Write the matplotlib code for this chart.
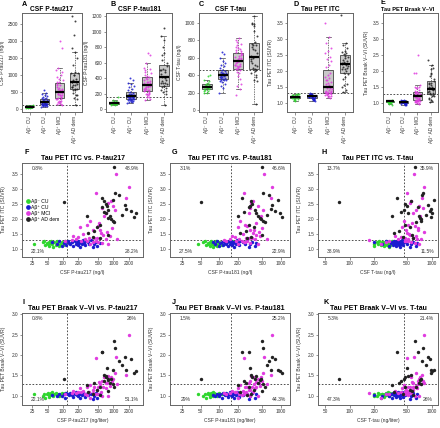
import numpy as np
import matplotlib
matplotlib.use("Agg")
import matplotlib.pyplot as plt
from matplotlib.ticker import FixedLocator, NullLocator, FixedFormatter
from matplotlib.lines import Line2D

plt.rcParams['font.family'] = ['Liberation Sans', 'DejaVu Sans']

W, H = 440, 428

# groups, in plotting order
group_names = ["Aβ⁻ CU", "Aβ⁺ CU", "Aβ⁺ MCI", "Aβ⁺ AD dem"]
group_colors = ["#2fd62f", "#1c1cd0", "#e03ce0", "#222222"]

# Aβ- CU
cu_neg_ptau217 = [27, 40, 42, 45, 48, 50, 52, 54, 55, 57, 60, 62, 65, 68, 72, 75, 78, 82, 88, 95, 100, 110]
cu_neg_ptau181 = [46, 55, 60, 62, 65, 66, 70, 72, 74, 75, 76, 78, 80, 82, 84, 86, 88, 92, 95, 100, 110, 160]
cu_neg_ttau = [200, 215, 230, 240, 250, 220, 255, 262, 270, 280, 265, 290, 300, 245, 310, 275, 330, 200, 350, 390, 285, 400]
cu_neg_itc = [1.18, 1.22, 1.25, 1.12, 1.20, 1.15, 1.24, 1.10, 1.19, 1.27, 1.17, 1.21, 1.05, 1.23, 1.14, 1.20, 1.26, 1.09, 1.18, 1.22, 1.13, 1.28]
cu_neg_braak = [1.05, 1.00, 1.03, 0.93, 1.05, 1.07, 1.02, 0.96, 1.04, 1.06, 1.01, 1.08, 0.98, 1.04, 1.06, 1.02, 1.05, 0.99, 1.03, 1.07, 1.04, 1.06]

# Aβ+ CU
cu_pos_ptau217 = [62, 75, 85, 95, 105, 110, 115, 125, 135, 140, 150, 160, 170, 180, 190, 195, 200,
                  205, 210, 220, 230, 240, 250, 260, 270, 290, 310, 330, 360, 390, 420, 450, 470, 550]
cu_pos_ptau181 = [80, 85, 92, 98, 105, 110, 115, 118, 125, 130, 135, 140, 145, 150, 155, 158, 160,
                  165, 170, 175, 180, 185, 195, 200, 210, 220, 240, 260, 280, 300, 320, 340, 380, 400]
cu_pos_ttau = [200, 250, 280, 300, 320, 330, 340, 345, 350, 360, 365, 370, 380, 385, 390, 395, 400,
               405, 410, 415, 420, 425, 430, 440, 450, 460, 480, 500, 520, 540, 560, 600, 640, 660]
cu_pos_itc = [1.22, 1.15, 1.26, 1.10, 1.19, 1.24, 1.13, 1.28, 1.20, 1.16, 1.23, 1.11, 1.25, 1.18, 1.21, 1.27, 1.14,
              1.22, 1.19, 1.08, 1.24, 1.17, 1.29, 1.20, 1.12, 1.26, 1.22, 1.15, 1.30, 1.05, 1.18, 1.24, 1.10, 1.21]
cu_pos_braak = [1.02, 0.98, 1.05, 1.00, 1.04, 0.95, 1.06, 1.03, 1.01, 1.07, 1.02, 0.97, 1.04, 1.08, 1.02, 1.05, 0.99,
                1.03, 1.06, 0.94, 1.04, 1.01, 1.09, 1.03, 0.96, 1.05, 1.02, 1.07, 1.04, 0.92, 1.00, 1.06, 0.95, 1.03]

# Aβ+ MCI
mci_ptau217 = [1150, 2000, 450, 1800, 900, 800, 1000, 600, 1100, 700, 650, 350, 520, 300, 500, 220, 550, 400, 750, 250, 620, 850,
               200, 330, 470, 180, 700, 280, 1200, 420, 560, 950, 160, 230, 300, 400, 450, 600, 800, 150, 350, 500, 110]
mci_ptau181 = [530, 720, 250, 700, 350, 330, 420, 310, 520, 300, 480, 220, 390, 260, 280, 200, 360, 320, 440, 240, 400, 460,
               180, 270, 300, 150, 380, 210, 600, 340, 350, 500, 160, 190, 230, 250, 280, 320, 430, 120, 200, 260, 130]
mci_ttau = [610, 820, 500, 760, 560, 540, 700, 780, 650, 600, 720, 460, 580, 520, 620, 440, 680, 490, 800, 530, 550, 640,
            420, 470, 600, 390, 660, 510, 740, 590, 500, 690, 360, 480, 520, 560, 470, 630, 710, 170, 240, 280, 300]
mci_itc = [3.50, 3.07, 2.88, 2.72, 2.62, 2.55, 2.45, 2.38, 2.30, 2.20, 2.12, 1.95, 1.88, 1.80, 1.78, 1.72, 1.65, 1.62, 1.58, 1.50, 1.46, 1.42,
           1.40, 1.37, 1.35, 1.34, 1.33, 1.32, 1.32, 1.38, 1.55, 1.70, 1.45, 1.28, 1.25, 1.22, 1.27, 1.20, 1.18, 1.30, 1.15, 1.24, 1.26]
mci_braak = [1.95, 2.50, 1.93, 1.50, 1.45, 1.48, 1.40, 1.35, 1.55, 1.30, 1.45, 1.25, 1.33, 1.22, 1.20, 1.18, 1.28, 1.15, 1.32, 1.12, 1.20, 1.24,
             1.10, 1.08, 1.15, 1.06, 1.18, 1.05, 1.28, 1.22, 1.10, 1.36, 1.12, 1.08, 1.02, 1.06, 1.04, 1.00, 0.98, 1.07, 0.95, 1.03, 1.05]

# Aβ+ AD dementia
ad_ptau217 = [1050, 1100, 1300, 600, 1000, 650, 105, 700, 750, 600, 1800, 800, 2200, 650, 700, 850, 300, 2600, 800, 900, 1000,
              1050, 550, 480, 420, 320, 800, 400, 550, 1500, 1700, 2750]
ad_ptau181 = [500, 510, 640, 230, 900, 330, 50, 340, 320, 300, 700, 380, 800, 250, 400, 420, 200, 1050, 450, 480, 520,
              560, 300, 360, 270, 220, 500, 330, 280, 600, 720, 950]
ad_ttau = [620, 780, 760, 380, 1080, 560, 75, 480, 500, 690, 980, 460, 960, 420, 520, 700, 330, 990, 720, 740, 750,
           650, 470, 540, 400, 350, 580, 450, 600, 850, 900, 1000]
ad_itc = [3.75, 2.88, 2.80, 2.72, 2.63, 2.60, 2.57, 2.52, 2.45, 2.40, 2.35, 2.30, 2.28, 2.25, 2.20, 2.12, 2.10, 2.07, 2.05, 2.00, 1.95,
          1.90, 1.80, 1.75, 1.60, 1.55, 1.48, 1.40, 1.35, 2.15, 2.48, 2.22]
ad_braak = [2.35, 2.18, 1.85, 2.08, 1.62, 1.50, 1.42, 1.45, 1.68, 2.07, 1.63, 1.40, 1.90, 1.35, 1.48, 1.30, 1.25, 1.55, 1.38, 1.42, 1.28,
            1.22, 1.20, 1.15, 1.32, 1.08, 1.12, 1.05, 1.02, 1.75, 1.95, 1.60]

data = {
    "ptau217": [cu_neg_ptau217, cu_pos_ptau217, mci_ptau217, ad_ptau217],
    "ptau181": [cu_neg_ptau181, cu_pos_ptau181, mci_ptau181, ad_ptau181],
    "ttau": [cu_neg_ttau, cu_pos_ttau, mci_ttau, ad_ttau],
    "itc": [cu_neg_itc, cu_pos_itc, mci_itc, ad_itc],
    "braak": [cu_neg_braak, cu_pos_braak, mci_braak, ad_braak],
}

# cut-offs
cut_ptau217, cut_ptau181, cut_ttau = 120, 155, 465
cut_itc, cut_braak = 1.31, 1.28

# quadrant percentages (TL, TR, BL, BR)
pct_itc_217 = ["0.8%", "48.9%", "22.1%", "28.2%"]
pct_itc_181 = ["3.1%", "46.6%", "27.5%", "22.9%"]
pct_itc_tt = ["13.7%", "35.9%", "38.9%", "11.5%"]
pct_br_217 = ["0.8%", "26%", "22.1%", "51.1%"]
pct_br_181 = ["1.5%", "25.2%", "29%", "44.3%"]
pct_br_tt = ["5.3%", "21.4%", "47.3%", "26%"]

FRAME = "#666666"
TXT = "#333333"
TICK_FS = 3.4
LAB_FS = 3.6
TITLE_FS = 4.8

fig = plt.figure(figsize=(W / 100, H / 100), dpi=100)


def px_axes(left, top, right, bottom):
    return fig.add_axes([left / W, 1 - bottom / H, (right - left) / W, (bottom - top) / H])


def style(ax):
    for s in ax.spines.values():
        s.set_color(FRAME)
        s.set_linewidth(0.7)
    ax.tick_params(labelsize=TICK_FS, length=1.8, width=0.5, pad=1, colors=FRAME, labelcolor=TXT)


def jitter(n):
    return ((np.arange(n) * 0.618034) % 1 - 0.5) * 0.42


def box_panel(ax, key, ylim, yticks, cut, ylabel, title, title_fs=TITLE_FS, title_x=0.5):
    vals = data[key]
    bp = ax.boxplot(vals, positions=[1, 2, 3, 4], widths=0.62, patch_artist=True, showfliers=False,
                    boxprops=dict(facecolor="#c9c9c9", edgecolor="#444444", linewidth=0.6),
                    medianprops=dict(color="black", linewidth=1.6),
                    whiskerprops=dict(color="#444444", linewidth=0.5, linestyle=(0, (2, 1.5))),
                    capprops=dict(color="#444444", linewidth=0.5))
    for b in bp["boxes"]:
        b.set_zorder(1)
    for m in bp["medians"]:
        m.set_zorder(4)
    for i, v in enumerate(vals):
        ax.scatter(i + 1 + jitter(len(v)), v, s=2.0, color=group_colors[i], lw=0, zorder=3, alpha=0.85)
    ax.axhline(cut, color="#333333", lw=0.6, ls=(0, (2, 2)), zorder=2)
    ax.set_xlim(0.5, 4.5)
    ax.set_ylim(*ylim)
    ax.set_yticks(yticks)
    ax.set_yticklabels([f"{t:g}" if key not in ("itc", "braak") else f"{t:.1f}" for t in yticks])
    ax.set_xticks([1, 2, 3, 4])
    ax.set_xticklabels(group_names, rotation=90)
    style(ax)
    ax.set_ylabel(ylabel, fontsize=LAB_FS, color=TXT, labelpad=2)
    ax.set_title(title, fontsize=title_fs, fontweight="bold", pad=1.5, x=title_x)


def scatter_panel(ax, xkey, ykey, xlim, xticks, ylim, yticks, xcut, ycut, pcts, title, xlabel, ylabel):
    for i in range(4):
        ax.scatter(data[xkey][i], data[ykey][i], s=6, color=group_colors[i], lw=0, zorder=3)
    ax.set_xscale("log")
    ax.set_xlim(*xlim)
    ax.set_ylim(*ylim)
    ax.xaxis.set_major_locator(FixedLocator(xticks))
    ax.xaxis.set_major_formatter(FixedFormatter([str(t) for t in xticks]))
    ax.xaxis.set_minor_locator(NullLocator())
    ax.set_yticks(yticks)
    ax.set_yticklabels([f"{t:.1f}" for t in yticks])
    ax.axvline(xcut, color="#333333", lw=0.6, ls=(0, (2, 2)))
    ax.axhline(ycut, color="#333333", lw=0.6, ls=(0, (2, 2)))
    for (x, y), p in zip([(0.13, 0.94), (0.91, 0.94), (0.13, 0.055), (0.91, 0.055)], pcts):
        ax.text(x, y, p, transform=ax.transAxes, ha="center", va="center", fontsize=3.6, color=TXT)
    style(ax)
    ax.set_title(title, fontsize=5.0, fontweight="bold", pad=2.5)
    ax.set_xlabel(xlabel, fontsize=LAB_FS, color=TXT, labelpad=3)
    ax.set_ylabel(ylabel, fontsize=LAB_FS, color=TXT, labelpad=4)


# top row: box plots
axA = px_axes(22, 13, 82, 112)
axB = px_axes(106, 13, 172, 112)
axC = px_axes(199, 13, 262, 112)
axD = px_axes(287, 13, 353, 112)
axE = px_axes(383, 13, 438, 112)

box_panel(axA, "ptau217", (-90, 2840), [0, 500, 1000, 1500, 2000, 2500], cut_ptau217, "CSF P-tau217 (ng/l)", "CSF P-tau217")
box_panel(axB, "ptau181", (-40, 1245), [0, 200, 400, 600, 800, 1000, 1200], cut_ptau181, "CSF P-tau181 (ng/l)", "CSF P-tau181")
box_panel(axC, "ttau", (-20, 1110), [0, 200, 400, 600, 800, 1000], cut_ttau, "CSF T-tau (ng/l)", "CSF T-tau")
box_panel(axD, "itc", (0.71, 3.82), [1.0, 1.5, 2.0, 2.5, 3.0, 3.5], cut_itc, "Tau PET ITC (SUVR)", "Tau PET ITC")
box_panel(axE, "braak", (0.71, 3.82), [1.0, 1.5, 2.0, 2.5, 3.0, 3.5], cut_braak, "Tau PET Braak V–VI (SUVR)",
          "Tau PET Braak V–VI", title_fs=4.1, title_x=0.45)

# middle row: ITC scatter
t217 = [25, 50, 100, 200, 500, 1000, 2000]
t181 = [25, 50, 100, 200, 500, 1000]
ttt = [50, 100, 200, 500, 1000]
itc_ticks = [1.0, 1.5, 2.0, 2.5, 3.0, 3.5]
br_ticks = [1.0, 1.5, 2.0, 2.5, 3.0]

axF = px_axes(22, 163, 143, 257)
axG = px_axes(170, 163, 290, 257)
axH = px_axes(318, 163, 438, 257)
scatter_panel(axF, "ptau217", "itc", (15.5, 3860), t217, (0.73, 3.88), itc_ticks, cut_ptau217, cut_itc,
              pct_itc_217, "Tau PET ITC vs. P-tau217", "CSF P-tau217 (ng/l)", "Tau PET ITC (SUVR)")
scatter_panel(axG, "ptau181", "itc", (16, 1400), t181, (0.73, 3.88), itc_ticks, cut_ptau181, cut_itc,
              pct_itc_181, "Tau PET ITC vs. P-tau181", "CSF P-tau181 (ng/l)", "Tau PET ITC (SUVR)")
scatter_panel(axH, "ttau", "itc", (41, 1200), ttt, (0.73, 3.88), itc_ticks, cut_ttau, cut_itc,
              pct_itc_tt, "Tau PET ITC vs. T-tau", "CSF T-tau (ng/l)", "Tau PET ITC (SUVR)")

handles = [Line2D([], [], marker="o", ls="", color=c, markersize=2.4) for c in group_colors]
axF.legend(handles, group_names, loc="center left", bbox_to_anchor=(0.0, 0.5), frameon=False, fontsize=3.6,
           handletextpad=0.1, labelspacing=0.2, borderaxespad=0.3, handlelength=1.0)

# bottom row: Braak V-VI scatter
axI = px_axes(22, 313, 143, 405)
axJ = px_axes(170, 313, 290, 405)
axK = px_axes(318, 313, 438, 405)
scatter_panel(axI, "ptau217", "braak", (15.5, 3860), t217, (0.77, 3.03), br_ticks, cut_ptau217, cut_braak,
              pct_br_217, "Tau PET Braak V–VI vs. P-tau217", "CSF P-tau217 (ng/liter)", "Tau PET Braak V–VI (SUVR)")
scatter_panel(axJ, "ptau181", "braak", (16, 1400), t181, (0.77, 3.03), br_ticks, cut_ptau181, cut_braak,
              pct_br_181, "Tau PET Braak V–VI vs. P-tau181", "CSF P-tau181 (ng/liter)", "Tau PET Braak V–VI (SUVR)")
scatter_panel(axK, "ttau", "braak", (41, 1200), ttt, (0.77, 3.03), br_ticks, cut_ttau, cut_braak,
              pct_br_tt, "Tau PET Braak V–VI vs. T-tau", "CSF T-tau (ng/liter)", "Tau PET Braak V–VI (SUVR)")

# panel letters
letters = [("A", 22, 4), ("B", 110, 4), ("C", 199, 4), ("D", 293, 4), ("E", 380, 3),
           ("F", 24, 153), ("G", 172, 153), ("H", 321, 153),
           ("I", 22, 302), ("J", 172, 302), ("K", 324, 302)]
for lab, x, y in letters:
    fig.text(x / W, 1 - y / H, lab, fontsize=5.2, fontweight="bold", ha="left", va="center")

fig.savefig("out.png", dpi=100)
